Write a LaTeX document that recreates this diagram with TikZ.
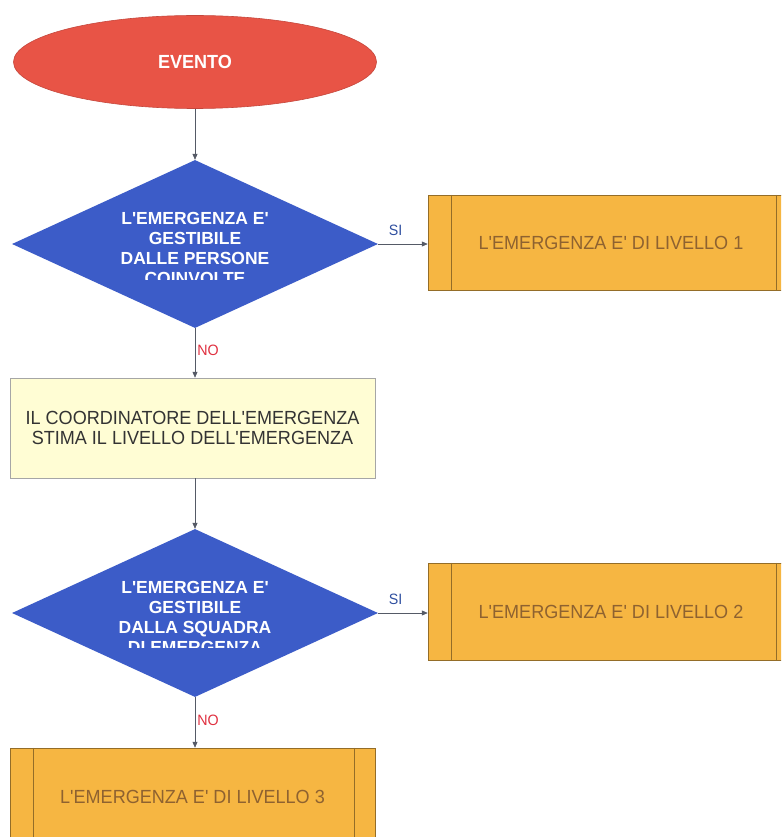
\documentclass[tikz,border=0pt]{standalone}
\usepackage{fontspec}
\setmainfont{Liberation Sans}
\newfontfamily\nfont[FakeStretch=0.95]{Liberation Sans}
\newfontfamily\dfont[FakeStretch=1.0]{Liberation Sans}
\usetikzlibrary{shapes.geometric,arrows.meta}
\definecolor{evred}{HTML}{E85446}
\definecolor{diablue}{HTML}{3C5CC8}
\definecolor{boxorange}{HTML}{F6B642}
\definecolor{boxyellow}{HTML}{FFFDD4}
\definecolor{orangetext}{HTML}{8E6230}
\definecolor{sicol}{HTML}{3050A0}
\definecolor{nocol}{HTML}{E03040}
\definecolor{linecol}{HTML}{555A66}
\begin{document}
\begin{tikzpicture}[x=1pt,y=-1pt,
  evstyle/.style={ellipse, fill=evred, draw=evred!85!black, line width=0.6pt,
    minimum width=363pt, minimum height=93pt, inner sep=0pt,
    text=white, font=\nfont\fontsize{19}{22}\selectfont\bfseries},
  diastyle/.style={diamond, fill=diablue, draw=none, aspect=2.18,
    minimum width=366pt, minimum height=168pt, inner sep=0pt},
  diatext/.style={align=center, text=white, inner sep=0pt,
    font=\dfont\fontsize{17.5}{20}\selectfont\bfseries},
  lvlfont/.style={text=orangetext, font=\nfont\fontsize{19}{22}\selectfont},
  lvlbox/.style={rectangle, fill=boxorange, draw=boxorange!60!black, line width=0.5pt,
    inner sep=0pt, lvlfont},
  ybox/.style={rectangle, fill=boxyellow, draw=gray!70, line width=0.5pt,
    minimum width=365pt, minimum height=100pt, inner sep=0pt, align=center,
    text=black!80, font=\nfont\fontsize{19}{20}\selectfont},
  conn/.style={draw=linecol, line width=0.7pt, -{Triangle[length=6pt,width=5pt]}},
  silabel/.style={text=sicol, font=\nfont\fontsize{15}{16}\selectfont, inner sep=2pt},
  nolabel/.style={text=nocol, font=\nfont\fontsize{15}{16}\selectfont, inner sep=2pt}
]
\clip (0,0) rectangle (781,837);
\fill[white] (0,0) rectangle (781,837);

% nodes
\node[evstyle] (ev) at (195,62) {EVENTO};
\node[diastyle] (d1) at (195,244) {};
\node[lvlbox, minimum width=371pt, minimum height=95pt] (b1) at (613.5,242.5) {};
\node[lvlfont] (t1) at (611,243) {L'EMERGENZA E' DI LIVELLO 1};
\node[ybox] (yb) at (192.5,428) {IL COORDINATORE DELL'EMERGENZA\\STIMA IL LIVELLO DELL'EMERGENZA};
\node[diastyle] (d2) at (195,613) {};
\node[lvlbox, minimum width=371pt, minimum height=97pt] (b2) at (613.5,611.5) {};
\node[lvlfont] (t2) at (611,612) {L'EMERGENZA E' DI LIVELLO 2};
\node[lvlbox, minimum width=365pt, minimum height=97pt] (b3) at (192.5,796.5) {L'EMERGENZA E' DI LIVELLO 3};

% inner lines of predefined-process boxes
\foreach \b in {b1,b2}{
  \draw[draw=boxorange!60!black, line width=0.5pt] ([xshift=23pt]\b.north west) -- ([xshift=23pt]\b.south west);
  \draw[draw=boxorange!60!black, line width=0.5pt] ([xshift=-23pt]\b.north east) -- ([xshift=-23pt]\b.south east);
}
\draw[draw=boxorange!60!black, line width=0.5pt] ([xshift=23pt]b3.north west) -- ([xshift=23pt]b3.south west);
\draw[draw=boxorange!60!black, line width=0.5pt] ([xshift=-21pt]b3.north east) -- ([xshift=-21pt]b3.south east);

% clipped diamond texts
\begin{scope}
  \clip (0,200) rectangle (781,279);
  \node[diatext] (dt1) at (195,248) {L'EMERGENZA E'\\GESTIBILE\\DALLE PERSONE\\COINVOLTE};
\end{scope}
\begin{scope}
  \clip (0,570) rectangle (781,647.5);
  \node[diatext] (dt2) at (195,617) {L'EMERGENZA E'\\GESTIBILE\\DALLA SQUADRA\\DI EMERGENZA};
\end{scope}

% connectors
\draw[conn] (ev.south) -- (d1.north);
\draw[conn] (d1.east) -- node[silabel, above=6pt, pos=0.35] {SI} (b1.west |- d1.east);
\draw[conn] (d1.south) -- node[nolabel, right, pos=0.45] {NO} (d1.south |- yb.north);
\draw[conn] (d1.south |- yb.south) -- (d2.north);
\draw[conn] (d2.east) -- node[silabel, above=6pt, pos=0.35] {SI} (b2.west |- d2.east);
\draw[conn] (d2.south) -- node[nolabel, right, pos=0.45] {NO} (d2.south |- b3.north);
\end{tikzpicture}
\end{document}
